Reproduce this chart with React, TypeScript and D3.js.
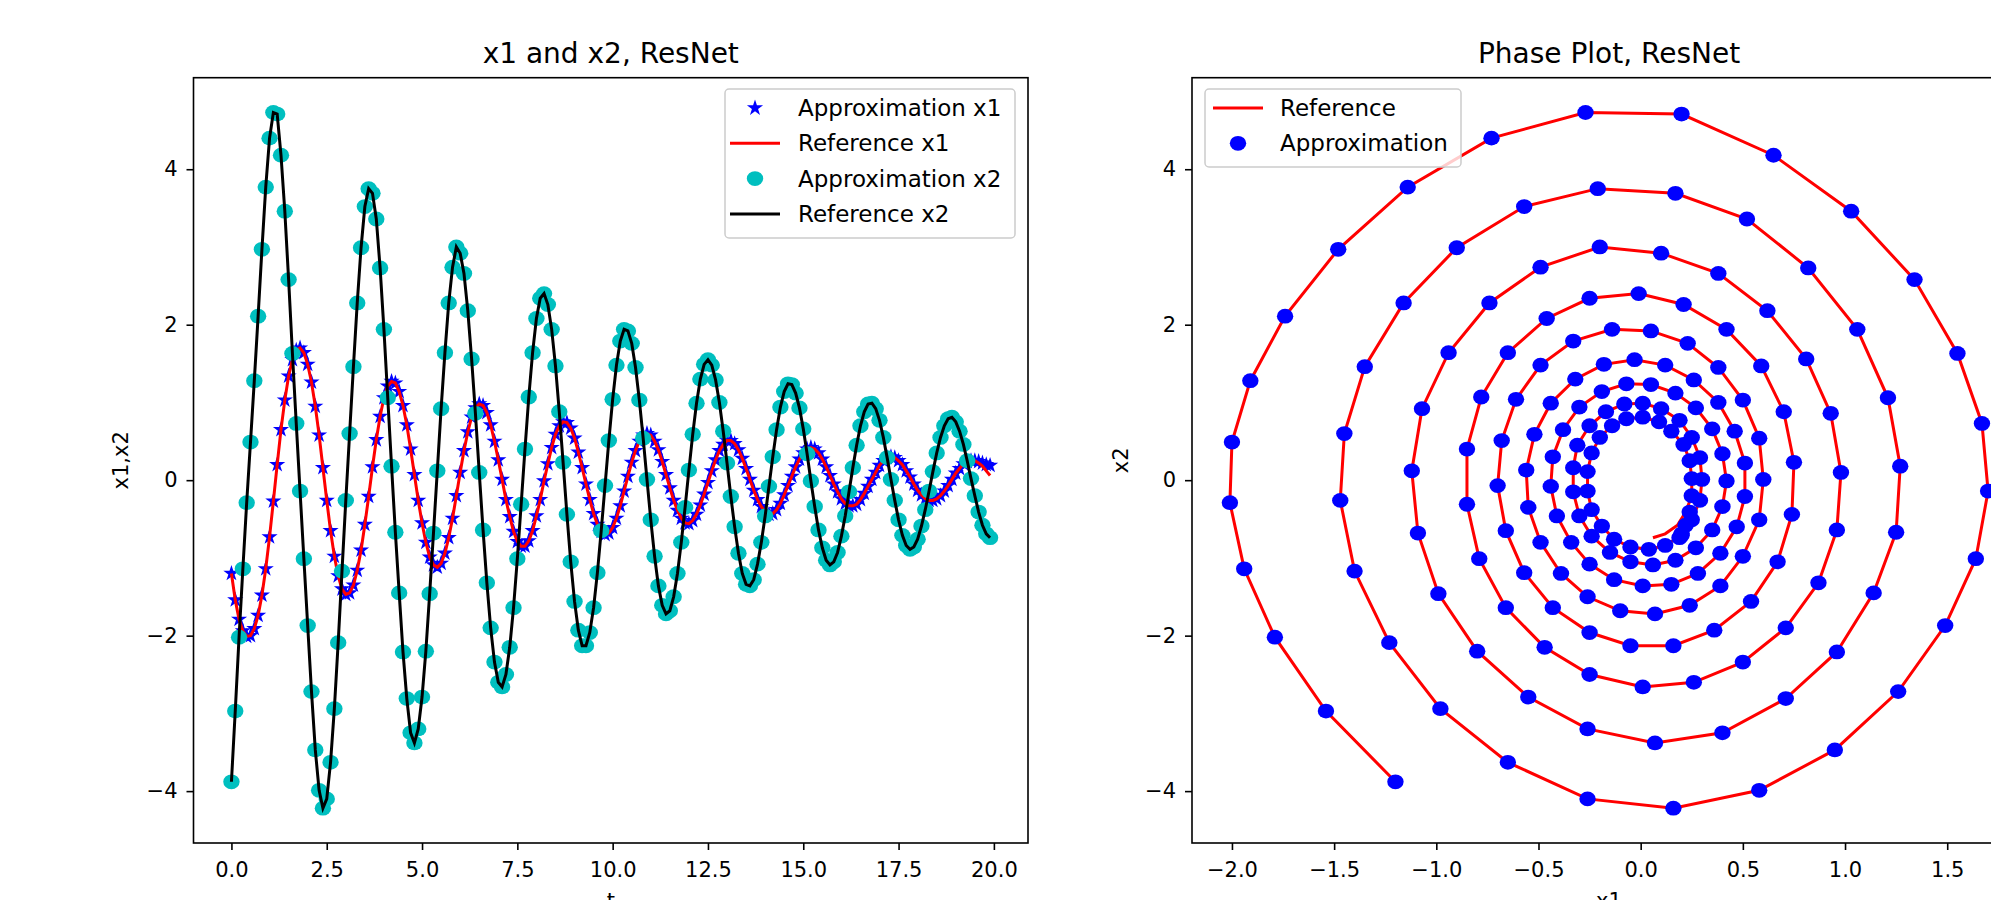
import { useEffect, useRef } from 'react';
import * as d3 from 'd3';

// time step of the simulation, t = 0 .. 19.9
const tStep = 0.1;

// reference trajectory
const x1Ref = [
  -1.20, -1.54, -1.79, -1.94, -2.01, -2.00, -1.91, -1.74, -1.48, -1.14,
  -0.73, -0.27, 0.20, 0.65, 1.03, 1.34, 1.55, 1.67, 1.70, 1.64,
  1.49, 1.26, 0.95, 0.58, 0.16, -0.26, -0.65, -0.98, -1.23, -1.40,
  -1.47, -1.45, -1.35, -1.16, -0.90, -0.57, -0.21, 0.17, 0.52, 0.82,
  1.06, 1.21, 1.27, 1.25, 1.14, 0.96, 0.71, 0.40, 0.07, -0.26,
  -0.55, -0.80, -0.99, -1.09, -1.12, -1.07, -0.94, -0.74, -0.49, -0.20,
  0.10, 0.38, 0.62, 0.81, 0.93, 0.98, 0.96, 0.87, 0.71, 0.50,
  0.26, 0.01, -0.25, -0.47, -0.66, -0.79, -0.85, -0.85, -0.78, -0.65,
  -0.46, -0.25, -0.01, 0.21, 0.42, 0.59, 0.70, 0.75, 0.74, 0.67,
  0.54, 0.36, 0.16, -0.05, -0.25, -0.43, -0.57, -0.66, -0.70, -0.68,
  -0.61, -0.49, -0.33, -0.14, 0.05, 0.23, 0.38, 0.50, 0.58, 0.60,
  0.58, 0.50, 0.39, 0.24, 0.07, -0.10, -0.26, -0.39, -0.49, -0.55,
  -0.56, -0.52, -0.44, -0.32, -0.18, -0.03, 0.12, 0.26, 0.38, 0.46,
  0.51, 0.51, 0.47, 0.39, 0.28, 0.15, 0.01, -0.13, -0.25, -0.34,
  -0.41, -0.44, -0.43, -0.38, -0.30, -0.19, -0.07, 0.05, 0.17, 0.27,
  0.35, 0.40, 0.42, 0.40, 0.35, 0.27, 0.17, 0.06, -0.05, -0.15,
  -0.24, -0.30, -0.33, -0.33, -0.31, -0.25, -0.17, -0.08, 0.01, 0.10,
  0.19, 0.25, 0.29, 0.30, 0.29, 0.25, 0.20, 0.12, 0.04, -0.05,
  -0.13, -0.19, -0.24, -0.26, -0.26, -0.24, -0.20, -0.14, -0.07, 0.01,
  0.09, 0.15, 0.21, 0.24, 0.25, 0.25, 0.22, 0.18, 0.12, 0.06,
];

const x2Ref = [
  -3.88, -2.97, -2.02, -1.14, -0.29, 0.49, 1.28, 2.11, 2.97, 3.77,
  4.40, 4.73, 4.71, 4.18, 3.46, 2.58, 1.63, 0.73, -0.14, -1.01,
  -1.87, -2.72, -3.47, -3.99, -4.22, -4.10, -3.63, -2.94, -2.09, -1.17,
  -0.26, 0.60, 1.46, 2.28, 2.99, 3.52, 3.75, 3.69, 3.36, 2.73,
  1.94, 1.06, 0.18, -0.67, -1.45, -2.21, -2.81, -3.25, -3.38, -3.20,
  -2.79, -2.20, -1.46, -0.68, 0.12, 0.92, 1.64, 2.28, 2.74, 3.00,
  2.92, 2.66, 2.18, 1.56, 0.86, 0.10, -0.64, -1.32, -1.90, -2.34,
  -2.60, -2.66, -2.50, -2.15, -1.64, -1.01, -0.31, 0.40, 1.07, 1.64,
  2.08, 2.34, 2.40, 2.26, 1.94, 1.47, 0.88, 0.23, -0.44, -1.05,
  -1.56, -1.93, -2.13, -2.13, -1.96, -1.64, -1.19, -0.65, -0.07, 0.51,
  1.04, 1.48, 1.79, 1.94, 1.92, 1.76, 1.45, 1.03, 0.54, 0.01,
  -0.51, -0.98, -1.36, -1.61, -1.72, -1.68, -1.50, -1.20, -0.80, -0.35,
  0.13, 0.59, 0.99, 1.30, 1.49, 1.55, 1.48, 1.29, 1.00, 0.63,
  0.22, -0.21, -0.60, -0.94, -1.20, -1.34, -1.36, -1.28, -1.08, -0.80,
  -0.46, -0.08, 0.30, 0.65, 0.94, 1.14, 1.24, 1.23, 1.12, 0.93,
  0.66, 0.34, -0.01, -0.34, -0.64, -0.87, -1.03, -1.09, -1.05, -0.93,
  -0.72, -0.46, -0.15, 0.16, 0.45, 0.70, 0.88, 0.98, 0.99, 0.92,
  0.77, 0.55, 0.29, 0.01, -0.26, -0.51, -0.71, -0.84, -0.89, -0.86,
  -0.76, -0.59, -0.38, -0.14, 0.11, 0.35, 0.55, 0.70, 0.79, 0.81,
  0.75, 0.63, 0.46, 0.25, 0.02, -0.20, -0.41, -0.58, -0.69, -0.74,
];

// the ResNet approximation sits on the reference, except the last few x1 points
const x1ApproxTail = [0.25, 0.24, 0.22, 0.20, 0.19];

const tTicks = [0, 2.5, 5, 7.5, 10, 12.5, 15, 17.5, 20];
const yTicks = [-4, -2, 0, 2, 4];
const x1Ticks = [-2, -1.5, -1, -0.5, 0, 0.5, 1, 1.5];

const FONT = "'DejaVu Sans', sans-serif";
const TOP = 77.7;
const BOTTOM = 843;

// 5 point star like matplotlib's '*' marker
function starPath(r) {
  const pts = d3.range(10).map(k => {
    const a = -Math.PI / 2 + (k * Math.PI) / 5;
    const rr = k % 2 === 0 ? r : r * 0.382;
    return [rr * Math.cos(a), rr * Math.sin(a)];
  });
  return 'M' + pts.map(p => p.join(',')).join('L') + 'Z';
}

export default function App() {
  const svgRef = useRef(null);

  useEffect(() => {
    const svg = d3.select(svgRef.current);
    svg.selectAll('*').remove();

    const n = x2Ref.length;
    const t = d3.range(n).map(i => i * tStep);
    const x1Approx = x1Ref.slice(0, n - x1ApproxTail.length).concat(x1ApproxTail);
    const x2Approx = x2Ref;

    // matplotlib autoscale: data extent plus 5% each side
    const pad = ([lo, hi]) => {
      const m = (hi - lo) * 0.05;
      return [lo - m, hi + m];
    };

    const y = d3.scaleLinear()
      .domain(pad(d3.extent([...x1Ref, ...x1Approx, ...x2Ref])))
      .range([BOTTOM, TOP]);
    const xT = d3.scaleLinear().domain(pad(d3.extent(t))).range([193.5, 1028]);
    const xP = d3.scaleLinear().domain(pad(d3.extent([...x1Ref, ...x1Approx]))).range([1192, 2026]);

    const fmt1 = d3.format('.1f');

    const panel = (x, xTicks, id, title, xLabel, yLabel, yLabelX) => {
      const [l, r] = x.range();
      const g = svg.append('g');

      g.append('clipPath').attr('id', id)
        .append('rect').attr('x', l).attr('y', TOP).attr('width', r - l).attr('height', BOTTOM - TOP);

      const ax = g.append('g').attr('transform', `translate(0,${BOTTOM})`)
        .call(d3.axisBottom(x).tickValues(xTicks).tickFormat(fmt1).tickSize(7).tickPadding(12).tickSizeOuter(0));
      ax.select('.domain').remove();
      const ay = g.append('g').attr('transform', `translate(${l},0)`)
        .call(d3.axisLeft(y).tickValues(yTicks).tickFormat(d3.format('d')).tickSize(7).tickPadding(9).tickSizeOuter(0));
      ay.select('.domain').remove();
      g.selectAll('.tick line').attr('stroke', '#000').attr('stroke-width', 1.6);
      g.selectAll('.tick text').attr('font-size', 21).attr('font-family', FONT).attr('fill', '#000');

      g.append('text').attr('x', (l + r) / 2).attr('y', 63).attr('text-anchor', 'middle')
        .attr('font-family', FONT).attr('font-size', 28).text(title);
      g.append('text').attr('x', (l + r) / 2).attr('y', 908).attr('text-anchor', 'middle')
        .attr('font-family', FONT).attr('font-size', 21).text(xLabel);
      g.append('text').attr('transform', `translate(${yLabelX},${(TOP + BOTTOM) / 2}) rotate(-90)`)
        .attr('text-anchor', 'middle').attr('font-family', FONT).attr('font-size', 21).text(yLabel);

      const data = g.append('g').attr('clip-path', `url(#${id})`);
      return { g, data, l, r };
    };

    // ---- left: x1 and x2 against t ----
    const left = panel(xT, tTicks, 'clipL', 'x1 and x2, ResNet', 't', 'x1,x2', 128);

    left.data.selectAll('.star').data(t).enter().append('path')
      .attr('d', starPath(8.5))
      .attr('transform', (d, i) => `translate(${xT(d)},${y(x1Approx[i])})`)
      .attr('fill', '#0000ff');

    left.data.append('path')
      .attr('d', d3.line().x(d => xT(d)).y((d, i) => y(x1Ref[i]))(t))
      .attr('fill', 'none').attr('stroke', '#ff0000').attr('stroke-width', 3);

    left.data.selectAll('.dot').data(t).enter().append('ellipse')
      .attr('cx', d => xT(d)).attr('cy', (d, i) => y(x2Approx[i]))
      .attr('rx', 8.2).attr('ry', 7.4).attr('fill', '#00bfbf');

    left.data.append('path')
      .attr('d', d3.line().x(d => xT(d)).y((d, i) => y(x2Ref[i]))(t))
      .attr('fill', 'none').attr('stroke', '#000').attr('stroke-width', 3);

    // ---- right: phase plot ----
    const right = panel(xP, x1Ticks, 'clipR', 'Phase Plot, ResNet', 'x1', 'x2', 1128);

    right.data.append('path')
      .attr('d', d3.line().x(d => xP(d)).y((d, i) => y(x2Ref[i]))(x1Ref))
      .attr('fill', 'none').attr('stroke', '#ff0000').attr('stroke-width', 3);

    right.data.selectAll('.dot').data(x1Approx).enter().append('ellipse')
      .attr('cx', d => xP(d)).attr('cy', (d, i) => y(x2Approx[i]))
      .attr('rx', 8.2).attr('ry', 7.4).attr('fill', '#0000ff');

    // spines on top
    [left, right].forEach(p => {
      p.g.append('rect').attr('x', p.l).attr('y', TOP).attr('width', p.r - p.l).attr('height', BOTTOM - TOP)
        .attr('fill', 'none').attr('stroke', '#000').attr('stroke-width', 1.6);
    });

    // ---- legends ----
    const legend = (x0, y0, w, rows, handleX, textX) => {
      const lg = svg.append('g');
      lg.append('rect').attr('x', x0).attr('y', y0).attr('width', w).attr('height', rows.length * 35.5 + 7)
        .attr('rx', 4).attr('fill', '#fff').attr('fill-opacity', 0.8)
        .attr('stroke', '#cccccc').attr('stroke-width', 1.5);
      rows.forEach((row, i) => {
        const cy = y0 + 19 + i * 35.3;
        if (row.type === 'line') {
          lg.append('line').attr('x1', handleX - 25).attr('x2', handleX + 25).attr('y1', cy).attr('y2', cy)
            .attr('stroke', row.color).attr('stroke-width', 3);
        } else if (row.type === 'star') {
          lg.append('path').attr('d', starPath(8.5)).attr('transform', `translate(${handleX},${cy})`).attr('fill', row.color);
        } else {
          lg.append('ellipse').attr('cx', handleX).attr('cy', cy).attr('rx', 8.2).attr('ry', 7.4).attr('fill', row.color);
        }
        lg.append('text').attr('x', textX).attr('y', cy + 8).attr('font-family', FONT).attr('font-size', 23)
          .text(row.label);
      });
    };

    legend(725, 89, 290, [
      { type: 'star', color: '#0000ff', label: 'Approximation x1' },
      { type: 'line', color: '#ff0000', label: 'Reference x1' },
      { type: 'dot', color: '#00bfbf', label: 'Approximation x2' },
      { type: 'line', color: '#000000', label: 'Reference x2' },
    ], 755, 798);

    legend(1205, 89, 256, [
      { type: 'line', color: '#ff0000', label: 'Reference' },
      { type: 'dot', color: '#0000ff', label: 'Approximation' },
    ], 1238, 1280);
  }, []);

  return (
    <svg ref={svgRef} width={1991} height={900}
      style={{ position: 'absolute', left: 0, top: 0, background: '#fff' }} />
  );
}
